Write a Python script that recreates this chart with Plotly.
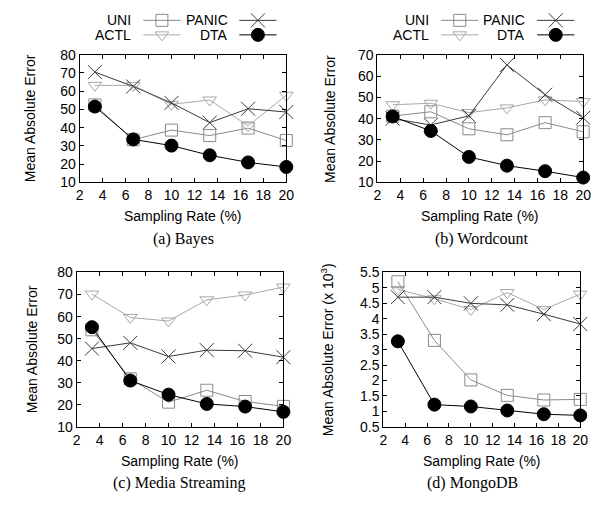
import plotly.graph_objects as go

# ---------------- data ----------------
x_rate = [3.33, 6.67, 10, 13.33, 16.67, 20]
x_ticks = [2, 4, 6, 8, 10, 12, 14, 16, 18, 20]
series_names = ["UNI", "ACTL", "PANIC", "DTA"]

bayes_uni = [52.5, 33.4, 38.7, 35.7, 39.8, 33.0]
bayes_actl = [63.2, 63.2, 52.8, 55.2, 41.0, 57.8]
bayes_panic = [70.5, 62.6, 53.6, 42.8, 50.4, 48.6]
bayes_dta = [51.6, 33.6, 30.2, 24.9, 21.0, 18.5]

wc_uni = [41.2, 43.2, 35.2, 32.4, 38.1, 33.8]
wc_actl = [46.5, 47.2, 42.8, 45.0, 48.8, 48.0]
wc_panic = [40.0, 37.0, 41.3, 65.2, 51.2, 40.4]
wc_dta = [41.0, 34.2, 22.0, 17.9, 15.3, 12.3]

ms_uni = [54.0, 31.8, 21.2, 26.6, 21.5, 19.3]
ms_actl = [70.2, 59.6, 58.0, 67.6, 69.8, 73.4]
ms_panic = [45.5, 48.1, 41.9, 44.8, 44.5, 41.6]
ms_dta = [55.2, 31.0, 24.6, 20.4, 19.2, 16.8]

mg_uni = [5.2, 3.3, 2.02, 1.52, 1.37, 1.39]
mg_actl = [4.95, 4.65, 4.3, 4.85, 4.3, 4.8]
mg_panic = [4.7, 4.7, 4.5, 4.45, 4.15, 3.83]
mg_dta = [3.27, 1.22, 1.16, 1.03, 0.91, 0.87]

y_ticks_ab = [10, 20, 30, 40, 50, 60, 70, 80]
y_ticks_b = [10, 20, 30, 40, 50, 60, 70]
y_ticks_d = [0.5, 1, 1.5, 2, 2.5, 3, 3.5, 4, 4.5, 5, 5.5]
y_tick_text_d = ["0.5", "1", "1.5", "2", "2.5", "3", "3.5", "4", "4.5", "5", "5.5"]

# ---------------- styles ----------------
OFF = 8                      # default page body margin
FW, FH = 600 - OFF, 506 - OFF
SANS = "Liberation Sans, Arial, Helvetica, sans-serif"
SERIF = "Liberation Serif, Times New Roman, serif"

styles = {
    "UNI": dict(color="#8a8a8a", symbol="square-open", size=12),
    "ACTL": dict(color="#a8a8a8", symbol="triangle-down-open", size=12),
    "PANIC": dict(color="#3a3a3a", symbol="x-thin-open", size=14),
    "DTA": dict(color="#000000", symbol="circle", size=13),
}

def px_x(p):
    return (p - OFF) / FW

def px_y(p):
    return 1 - (p - OFF) / FH

panels = [
    dict(data=[bayes_uni, bayes_actl, bayes_panic, bayes_dta], x0=77, x1=288, y0=48, y1=180,
         yr=[10, 80], yt=y_ticks_ab, ytt=None, ytitle="Mean Absolute Error",
         caption="(a) Bayes", ytx=26, capx=183),
    dict(data=[wc_uni, wc_actl, wc_panic, wc_dta], x0=381, x1=591, y0=48, y1=180,
         yr=[10, 70], yt=y_ticks_b, ytt=None, ytitle="Mean Absolute Error",
         caption="(b) Wordcount", ytx=332, capx=488),
    dict(data=[ms_uni, ms_actl, ms_panic, ms_dta], x0=74, x1=285, y0=273, y1=432.5,
         yr=[10, 80], yt=y_ticks_ab, ytt=None, ytitle="Mean Absolute Error",
         caption="(c) Media Streaming", ytx=28, capx=178),
    dict(data=[mg_uni, mg_actl, mg_panic, mg_dta], x0=387, x1=588, y0=273, y1=432.5,
         yr=[0.5, 5.5], yt=y_ticks_d, ytt=y_tick_text_d,
         ytitle="Mean Absolute Error (x 10<sup>3</sup>)",
         caption="(d) MongoDB", ytx=329, capx=478),
]

fig = go.Figure()
layout = dict(width=FW, height=FH, margin=dict(l=0, r=0, t=0, b=0),
              paper_bgcolor="white", plot_bgcolor="rgba(0,0,0,0)", showlegend=False,
              font=dict(family=SANS, size=14, color="black"))
annotations = []

def axis_common():
    return dict(showline=True, linecolor="black", linewidth=1, mirror="ticks",
                ticks="inside", ticklen=4, tickwidth=1, tickcolor="black",
                showgrid=False, zeroline=False,
                tickfont=dict(family=SANS, size=14, color="black"))

for i, p in enumerate(panels, start=1):
    xa = "xaxis" if i == 1 else f"xaxis{i}"
    ya = "yaxis" if i == 1 else f"yaxis{i}"
    xr = "x" if i == 1 else f"x{i}"
    yr = "y" if i == 1 else f"y{i}"
    ax = axis_common()
    ax.update(domain=[px_x(p["x0"]), px_x(p["x1"])], range=[2, 20],
              tickmode="array", tickvals=x_ticks, anchor=yr)
    ay = axis_common()
    ay.update(domain=[px_y(p["y1"]), px_y(p["y0"])], range=p["yr"],
              tickmode="array", tickvals=p["yt"], anchor=xr)
    if p["ytt"] is not None:
        ay["ticktext"] = p["ytt"]
    layout[xa] = ax
    layout[ya] = ay
    for name, vals in zip(series_names, p["data"]):
        s = styles[name]
        fig.add_trace(go.Scatter(
            x=x_rate, y=vals, mode="lines+markers", name=name, xaxis=xr, yaxis=yr,
            cliponaxis=False,
            line=dict(color=s["color"], width=1),
            marker=dict(symbol=s["symbol"], size=s["size"], color=s["color"],
                        line=dict(color=s["color"], width=1)),
        ))
    cx = (p["x0"] + p["x1"]) / 2
    annotations.append(dict(text="Sampling Rate (%)", x=px_x(cx), y=px_y(p["y1"] + 35),
                            xref="paper", yref="paper", xanchor="center", yanchor="middle",
                            showarrow=False, font=dict(family=SANS, size=14)))
    annotations.append(dict(text=p["ytitle"], x=px_x(p["ytx"]), y=px_y((p["y0"] + p["y1"]) / 2),
                            xref="paper", yref="paper", xanchor="center", yanchor="middle",
                            textangle=-90, showarrow=False, font=dict(family=SANS, size=14)))
    annotations.append(dict(text=p["caption"], x=px_x(p["capx"]), y=px_y(p["y1"] + 58),
                            xref="paper", yref="paper", xanchor="center", yanchor="middle",
                            showarrow=False, font=dict(family=SERIF, size=16)))

# ---------------- legend keys (overlay axis in page pixels) ----------------
layout["xaxis5"] = dict(domain=[0, 1], range=[OFF, OFF + FW], visible=False, anchor="y5")
layout["yaxis5"] = dict(domain=[0, 1], range=[OFF + FH, OFF], visible=False, anchor="x5")

legend_slots = {"UNI": (0, 12.5), "PANIC": (1, 12.5), "ACTL": (0, 27.5), "DTA": (1, 27.5)}
col_text_end = [132, 230]
for shift in (0, 304):
    for name in series_names:
        col, ry = legend_slots[name]
        s = styles[name]
        tx = col_text_end[col] + shift
        lx0, lx1 = tx + 10, tx + 48
        fig.add_trace(go.Scatter(x=[lx0, lx1], y=[ry, ry], mode="lines", xaxis="x5", yaxis="y5",
                                 line=dict(color=s["color"], width=1), hoverinfo="skip",
                                 cliponaxis=False))
        fig.add_trace(go.Scatter(x=[(lx0 + lx1) / 2], y=[ry], mode="markers", xaxis="x5",
                                 yaxis="y5", hoverinfo="skip", cliponaxis=False,
                                 marker=dict(symbol=s["symbol"], size=s["size"], color=s["color"],
                                             line=dict(color=s["color"], width=1))))
        annotations.append(dict(text=name, x=px_x(tx), y=px_y(ry), xref="paper", yref="paper",
                                xanchor="right", yanchor="middle", showarrow=False,
                                font=dict(family=SANS, size=14)))

layout["annotations"] = annotations
fig.update_layout(**layout)
fig.write_html("out.html")
